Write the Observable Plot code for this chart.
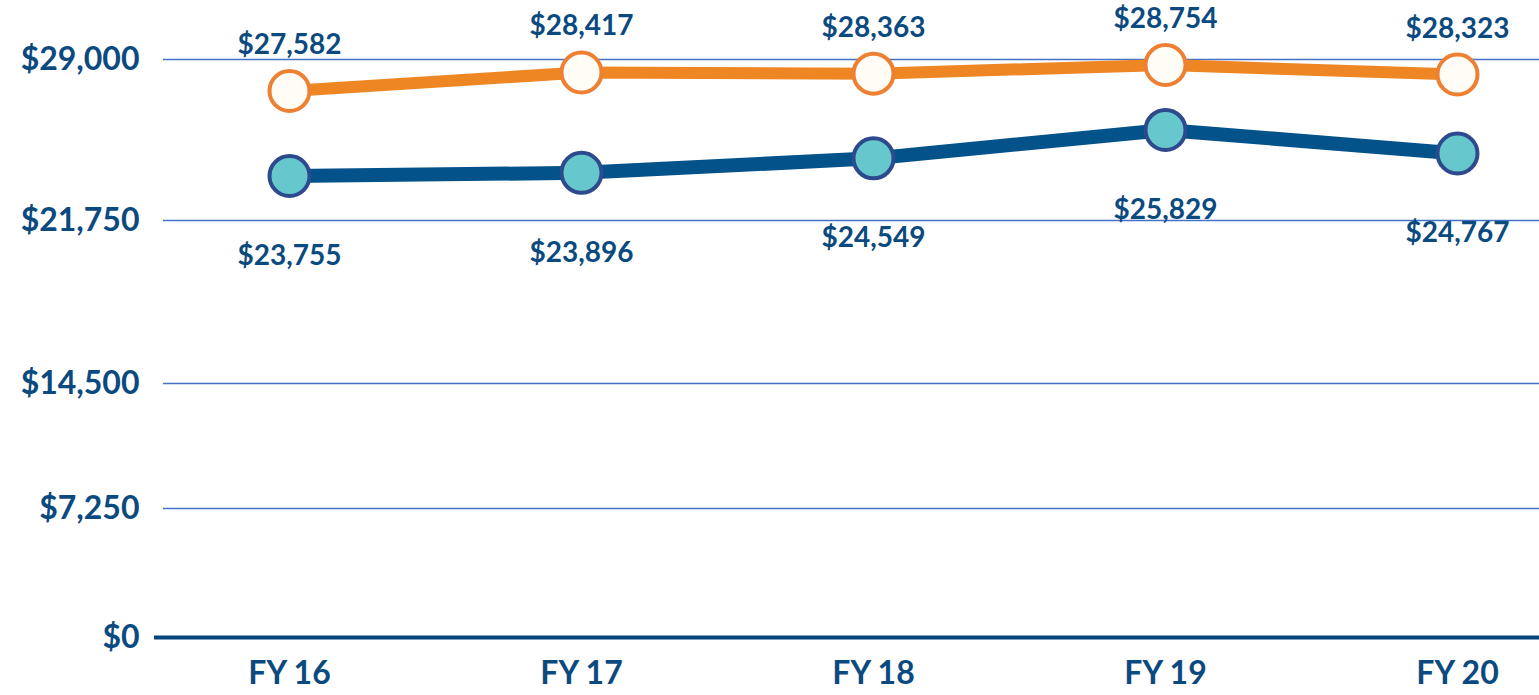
<!DOCTYPE html>
<html>
<head>
<meta charset="utf-8">
<script src="https://cdn.jsdelivr.net/npm/d3@7"></script>
<script src="https://cdn.jsdelivr.net/npm/@observablehq/plot@0.6"></script>
<style>
  html, body { margin: 0; padding: 0; background: #fff; }
  #chart svg { display: block; }
</style>
</head>
<body>
<div id="chart"></div>
<script>
const years = ["FY 16", "FY 17", "FY 18", "FY 19", "FY 20"];
const orangeValues = [27582, 28417, 28363, 28754, 28323];
const blueValues = [23755, 23896, 24549, 25829, 24767];
const yTicks = [0, 7250, 14500, 21750, 29000];

const orange = years.map((year, i) => ({year, value: orangeValues[i]}));
const blue = years.map((year, i) => ({year, value: blueValues[i]}));

const navyText = "#0b4a7f";
const fmt = d3.format("$,");

const chart = Plot.plot({
  width: 1539,
  height: 695,
  marginLeft: 163,
  marginRight: 0,
  marginTop: 0,
  marginBottom: 58,
  style: {fontFamily: "Lato, 'Open Sans', sans-serif", fontWeight: "bold", color: navyText, background: "#fff"},
  x: {type: "point", domain: years, range: [288, 1458], padding: 0, label: null},
  y: {type: "linear", domain: yTicks, range: [637, 508, 383, 220, 59], label: null},
  marks: [
    Plot.ruleY(yTicks.filter(d => d > 0), {stroke: "#4472c4", strokeWidth: 1.5}),
    Plot.ruleY([0], {stroke: "#03467d", strokeWidth: 4, insetLeft: -9}),
    Plot.axisY({ticks: yTicks, tickFormat: fmt, tickSize: 0, tickPadding: 24, fontSize: 32, fontWeight: "bold", fill: navyText, label: null}),
    Plot.axisX({tickSize: 0, tickPadding: 24, fontSize: 32, fontWeight: "bold", fill: navyText, label: null}),
    Plot.line(orange, {x: "year", y: "value", stroke: "#ee8723", strokeWidth: 12}),
    Plot.line(blue, {x: "year", y: "value", stroke: "#03528a", strokeWidth: 14}),
    Plot.dot(orange, {x: "year", y: "value", r: 20, fill: "#fffdf5", stroke: "#ee8033", strokeWidth: 4}),
    Plot.dot(blue, {x: "year", y: "value", r: 20, fill: "#66c8cc", stroke: "#2e4a8e", strokeWidth: 4}),
    Plot.text(orange, {x: "year", y: "value", text: d => fmt(d.value), dy: -46, fontSize: 28, fontWeight: "bold", fill: navyText}),
    Plot.text(blue, {x: "year", y: "value", text: d => fmt(d.value), dy: 80, fontSize: 28, fontWeight: "bold", fill: navyText})
  ]
});
document.getElementById("chart").append(chart);
</script>
</body>
</html>
